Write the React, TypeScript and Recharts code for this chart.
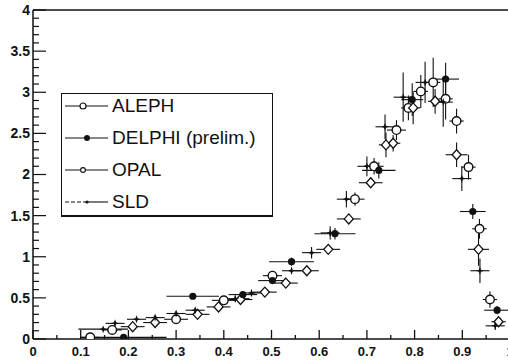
import { ErrorBar, Legend, Scatter, ScatterChart, XAxis, YAxis } from 'recharts'

// each point: [x, y, x error, y error]
type Pt = [number, number, number, number]

const ALEPH: Pt[] = [
  [0.12, 0.02, 0.02, 0.02],
  [0.166, 0.11, 0.02, 0.03],
  [0.3, 0.24, 0.025, 0.03],
  [0.4, 0.47, 0.025, 0.04],
  [0.502, 0.77, 0.02, 0.05],
  [0.675, 1.7, 0.02, 0.08],
  [0.715, 2.1, 0.02, 0.1],
  [0.762, 2.54, 0.02, 0.12],
  [0.787, 2.81, 0.015, 0.15],
  [0.813, 3.01, 0.015, 0.2],
  [0.839, 3.12, 0.015, 0.3],
  [0.865, 2.92, 0.015, 0.25],
  [0.888, 2.65, 0.015, 0.15],
  [0.913, 2.09, 0.015, 0.15],
  [0.936, 1.34, 0.015, 0.12],
  [0.958, 0.48, 0.015, 0.1],
]

const DELPHI: Pt[] = [
  [0.19, 0.02, 0.09, 0.02],
  [0.335, 0.52, 0.055, 0.03],
  [0.44, 0.54, 0.03, 0.03],
  [0.502, 0.71, 0.03, 0.04],
  [0.542, 0.94, 0.047, 0.05],
  [0.633, 1.28, 0.043, 0.07],
  [0.725, 2.05, 0.035, 0.1],
  [0.795, 2.91, 0.023, 0.2],
  [0.865, 3.16, 0.028, 0.2],
  [0.922, 1.55, 0.027, 0.09],
  [0.973, 0.35, 0.027, 0.05],
]

const OPAL: Pt[] = [
  [0.209, 0.15, 0.025, 0.03],
  [0.256, 0.2, 0.025, 0.03],
  [0.345, 0.3, 0.025, 0.03],
  [0.389, 0.39, 0.025, 0.04],
  [0.435, 0.48, 0.025, 0.04],
  [0.486, 0.57, 0.025, 0.04],
  [0.53, 0.68, 0.025, 0.05],
  [0.574, 0.83, 0.025, 0.05],
  [0.619, 1.09, 0.025, 0.05],
  [0.662, 1.46, 0.025, 0.06],
  [0.708, 1.9, 0.025, 0.06],
  [0.74, 2.36, 0.015, 0.15],
  [0.755, 2.38, 0.015, 0.1],
  [0.797, 2.81, 0.015, 0.2],
  [0.843, 2.89, 0.015, 0.15],
  [0.888, 2.24, 0.023, 0.15],
  [0.934, 1.09, 0.022, 0.2],
  [0.976, 0.21, 0.015, 0.05],
]

const SLD: Pt[] = [
  [0.147, 0.12, 0.052, 0.02],
  [0.172, 0.19, 0.02, 0.03],
  [0.217, 0.24, 0.02, 0.03],
  [0.256, 0.26, 0.02, 0.03],
  [0.3, 0.31, 0.02, 0.03],
  [0.34, 0.35, 0.02, 0.03],
  [0.424, 0.49, 0.03, 0.04],
  [0.458, 0.56, 0.02, 0.04],
  [0.542, 0.83, 0.02, 0.04],
  [0.584, 1.05, 0.02, 0.07],
  [0.623, 1.29, 0.02, 0.08],
  [0.657, 1.7, 0.02, 0.1],
  [0.7, 2.1, 0.02, 0.12],
  [0.738, 2.58, 0.02, 0.15],
  [0.776, 2.94, 0.02, 0.3],
  [0.822, 3.12, 0.02, 0.25],
  [0.86, 2.88, 0.02, 0.3],
  [0.899, 1.95, 0.02, 0.15],
  [0.937, 0.83, 0.02, 0.15],
  [0.969, 0.16, 0.02, 0.05],
]

// labelled ticks; the unlabelled minor ticks sit every 0.05 (x) and 0.1 (y)
const X_LABELS = ['0', '0.1', '0.2', '0.3', '0.4', '0.5', '0.6', '0.7', '0.8', '0.9', '1']
const Y_LABELS = ['0', '0.5', '1', '1.5', '2', '2.5', '3', '3.5', '4']
const X_TICKS = Array.from({ length: 21 }, (_, i) => i / 20)
const Y_TICKS = Array.from({ length: 41 }, (_, i) => i / 10)

const FONT = '"Liberation Sans", Arial, Helvetica, sans-serif'
const INK = '#111'
const PLOT_W = 477

const toRows = (pts: Pt[]) => pts.map(([x, y, xe, ye]) => ({ x, y, xe, ye }))

const findLabel = (labels: string[], v: number) => labels.find((l) => Math.abs(Number(l) - v) < 1e-6)

// ticks point into the plot, as in the original
function XTick(p: any) {
  const label = findLabel(X_LABELS, p.payload.value)
  return (
    <g>
      <line x1={p.x} y1={p.y} x2={p.x} y2={p.y - (label ? 9 : 4)} stroke={INK} strokeWidth={1.3} />
      {label && (
        <text x={p.x} y={p.y + 8} dy="0.71em" textAnchor="middle" fill={INK} fontSize={13} fontWeight="bold" fontFamily={FONT}>
          {label}
        </text>
      )}
    </g>
  )
}

function YTick(p: any) {
  const v = p.payload.value
  const label = findLabel(Y_LABELS, v)
  return (
    <g>
      <line x1={p.x} y1={p.y} x2={p.x + (label ? 13 : 6)} y2={p.y} stroke={INK} strokeWidth={1.2} />
      {/* top edge of the frame */}
      {v > 3.999 && <line x1={p.x} y1={p.y} x2={p.x + PLOT_W} y2={p.y} stroke={INK} strokeWidth={1.3} />}
      {label && (
        <text x={p.x - 3} y={p.y} dy="0.35em" textAnchor="end" fill={INK} fontSize={14} fontWeight="bold" fontFamily={FONT}>
          {label}
        </text>
      )}
    </g>
  )
}

const alephShape = (p: any) => (
  <circle cx={p.cx} cy={p.cy} r={4.3} fill="#fff" stroke={INK} strokeWidth={1.4} />
)
const delphiShape = (p: any) => <circle cx={p.cx} cy={p.cy} r={3.6} fill={INK} />
const opalShape = (p: any) => (
  <path
    d={`M${p.cx},${p.cy - 5}L${p.cx + 4.5},${p.cy}L${p.cx},${p.cy + 5}L${p.cx - 4.5},${p.cy}Z`}
    fill="#fff"
    stroke={INK}
    strokeWidth={1.3}
  />
)
const sldShape = (p: any) => (
  <path
    d={`M${p.cx},${p.cy - 4}L${p.cx + 1},${p.cy - 1}L${p.cx + 4},${p.cy}L${p.cx + 1},${p.cy + 1}L${p.cx},${p.cy + 4}L${p.cx - 1},${p.cy + 1}L${p.cx - 4},${p.cy}L${p.cx - 1},${p.cy - 1}Z`}
    fill={INK}
  />
)

const LEGEND_ROWS = [
  { name: 'ALEPH', mark: 'aleph' },
  { name: 'DELPHI (prelim.)', mark: 'delphi' },
  { name: 'OPAL', mark: 'opal' },
  { name: 'SLD', mark: 'sld' },
]

function LegendSample({ mark }: { mark: string }) {
  return (
    <svg width={46} height={12} style={{ display: 'block' }}>
      {mark === 'sld' ? (
        <>
          <line x1={1} y1={6} x2={22} y2={6} stroke={INK} strokeWidth={1.1} strokeDasharray="4 2" />
          <line x1={22} y1={6} x2={44} y2={6} stroke={INK} strokeWidth={1.1} />
          <circle cx={23} cy={6} r={1.6} fill={INK} />
        </>
      ) : (
        <line x1={1} y1={6} x2={44} y2={6} stroke={INK} strokeWidth={1.1} />
      )}
      {mark === 'aleph' && <circle cx={19} cy={6} r={3} fill="#fff" stroke={INK} strokeWidth={1.2} />}
      {mark === 'delphi' && <circle cx={23} cy={6} r={3} fill={INK} />}
      {mark === 'opal' && <circle cx={19} cy={6} r={2.4} fill="#fff" stroke={INK} strokeWidth={1.1} />}
    </svg>
  )
}

function LegendBox() {
  return (
    <div
      style={{
        width: 212,
        height: 124,
        boxSizing: 'border-box',
        border: `1px solid ${INK}`,
        borderBottomWidth: 2,
        background: '#fff',
        fontFamily: FONT,
        fontSize: 19,
        color: INK,
        overflow: 'hidden',
      }}
    >
      <div style={{ marginTop: -4 }}>
        {LEGEND_ROWS.map((r) => (
          <div key={r.name} style={{ height: 32, display: 'flex', alignItems: 'center', paddingLeft: 2 }}>
            <LegendSample mark={r.mark} />
            <span style={{ marginLeft: 2, whiteSpace: 'nowrap' }}>{r.name}</span>
          </div>
        ))}
      </div>
    </div>
  )
}

const series = [
  { name: 'ALEPH', data: ALEPH, shape: alephShape },
  { name: 'OPAL', data: OPAL, shape: opalShape },
  { name: 'SLD', data: SLD, shape: sldShape },
  { name: 'DELPHI (prelim.)', data: DELPHI, shape: delphiShape },
]

export default function App() {
  return (
    <div style={{ position: 'absolute', left: 0, top: 0, width: 508, height: 362, overflow: 'hidden', background: '#fff' }}>
      <ScatterChart width={520} height={362} margin={{ top: 10, right: 10, bottom: 0, left: 0 }}>
        <XAxis
          dataKey="x"
          type="number"
          domain={[0, 1]}
          allowDataOverflow
          ticks={X_TICKS}
          interval={0}
          height={23}
          tickSize={0}
          tickMargin={0}
          tickLine={false}
          axisLine={{ stroke: INK, strokeWidth: 1.5 }}
          tick={<XTick />}
        />
        <YAxis
          dataKey="y"
          type="number"
          domain={[0, 4]}
          allowDataOverflow
          ticks={Y_TICKS}
          interval={0}
          width={33}
          tickSize={0}
          tickMargin={0}
          tickLine={false}
          axisLine={{ stroke: INK, strokeWidth: 1.5 }}
          tick={<YTick />}
        />
        <Legend
          layout="vertical"
          align="center"
          verticalAlign="middle"
          wrapperStyle={{ left: 61, top: 93, width: 212, height: 124 }}
          content={() => <LegendBox />}
        />
        {series.map((s) => (
          <Scatter key={s.name} name={s.name} data={toRows(s.data)} shape={s.shape} isAnimationActive={false}>
            <ErrorBar dataKey="xe" direction="x" width={0} stroke={INK} strokeWidth={1.1} />
            <ErrorBar dataKey="ye" direction="y" width={0} stroke={INK} strokeWidth={1.1} />
          </Scatter>
        ))}
      </ScatterChart>
    </div>
  )
}
